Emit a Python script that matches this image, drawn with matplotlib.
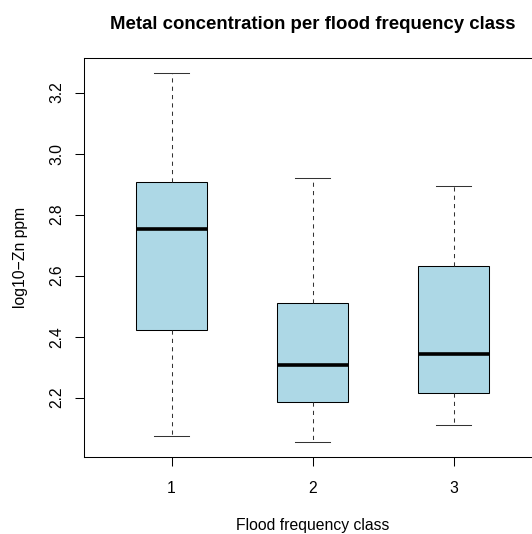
import matplotlib
matplotlib.use("Agg")
import matplotlib.pyplot as plt

plt.rcParams['font.family'] = ['Liberation Sans', 'DejaVu Sans']

# box statistics per flood frequency class (log10 Zn ppm)
classes = ['1', '2', '3']
whis_lo = [2.076, 2.054, 2.112]
q1 = [2.422, 2.187, 2.216]
med = [2.752, 2.307, 2.342]
q3 = [2.906, 2.511, 2.630]
whis_hi = [3.265, 2.920, 2.894]
y_ticks = [2.2, 2.4, 2.6, 2.8, 3.0, 3.2]

stats = []
for i in range(len(classes)):
    stats.append({'label': classes[i], 'whislo': whis_lo[i], 'q1': q1[i],
                  'med': med[i], 'q3': q3[i], 'whishi': whis_hi[i], 'fliers': []})

fig = plt.figure(figsize=(5.32, 5.34), dpi=100)
ax = fig.add_axes([0.158, 0.1442, 0.859, 0.7472])

lw = 0.75
ax.bxp(stats, positions=[1, 2, 3], widths=0.5, patch_artist=True,
       showfliers=False,
       boxprops=dict(facecolor='#ADD8E6', edgecolor='black', linewidth=lw),
       medianprops=dict(color='black', linewidth=2.6, solid_capstyle='butt'),
       whiskerprops=dict(color='#333333', linewidth=lw, linestyle=(0, (4, 4))),
       capprops=dict(color='#333333', linewidth=lw),
       capwidths=0.25)

lo, hi = min(whis_lo), max(whis_hi)
pad = (hi - lo) * 0.04
ax.set_ylim(lo - pad, hi + pad)
ax.set_xlim(0.38, 3.62)
ax.set_xticks([1, 2, 3])
ax.set_xticklabels(classes)
ax.set_yticks(y_ticks)
ax.set_yticklabels([f'{v:.1f}' for v in y_ticks], rotation=90, va='center')

for s in ax.spines.values():
    s.set_linewidth(lw)
ax.tick_params(axis='both', direction='out', length=6.5, width=lw, labelsize=11.3)
ax.tick_params(axis='x', pad=11)
ax.tick_params(axis='y', pad=8)

ax.set_title('Metal concentration per flood frequency class',
             fontsize=13.4, fontweight='bold', pad=21)
ax.set_xlabel('Flood frequency class', fontsize=11.3, labelpad=15.5)
ax.set_ylabel('log10\u2212Zn ppm', fontsize=11.3, labelpad=15)

fig.savefig('out.png', dpi=100)
